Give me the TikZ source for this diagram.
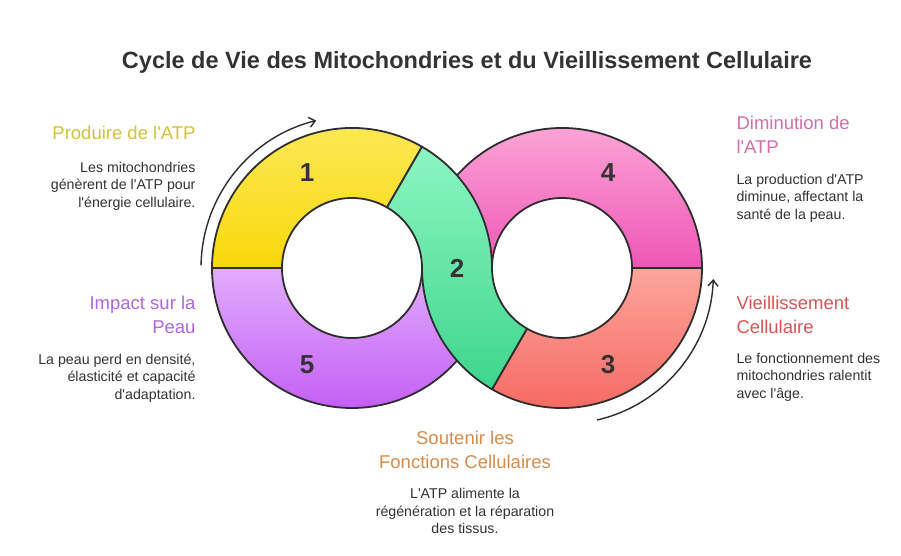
\documentclass[tikz,border=0pt]{standalone}
\usepackage{fontspec}
\setmainfont{Liberation Sans}[Ligatures=TeXOff]
\usetikzlibrary{calc,arrows.meta}
\definecolor{outl}{HTML}{2E2E2E}
\definecolor{txt}{HTML}{333333}
\definecolor{yelT}{HTML}{FDEA60}
\definecolor{yelB}{HTML}{F8D80A}
\definecolor{pinT}{HTML}{FBA3D6}
\definecolor{pinB}{HTML}{EE56B6}
\definecolor{purT}{HTML}{E2ADFC}
\definecolor{purB}{HTML}{C35FF5}
\definecolor{redT}{HTML}{FDA59C}
\definecolor{redB}{HTML}{F4625C}
\definecolor{grnT}{HTML}{8CF6C2}
\definecolor{grnB}{HTML}{3ED58C}
\definecolor{yelTx}{HTML}{D3C33A}
\definecolor{pinTx}{HTML}{D470A8}
\definecolor{purTx}{HTML}{B066DE}
\definecolor{redTx}{HTML}{D95555}
\definecolor{orTx}{HTML}{D98B48}
\tikzset{
  seg/.style={draw=outl, line width=1.8pt, line join=round},
  num/.style={font=\fontsize{26}{28}\selectfont\bfseries, text=txt},
  head/.style={font=\fontsize{18.5}{24}\selectfont},
  body/.style={font=\fontsize{14.2}{17.5}\selectfont, text=txt},
  cyc/.style={draw=outl, line width=1.4pt, -{Straight Barb[length=6pt,width=10pt]}}
}
\begin{document}
\begin{tikzpicture}[x=1pt,y=1pt]
\useasboundingbox[fill=white] (0,0) rectangle (901,556);
\coordinate (L) at (352,288);
\coordinate (R) at (562,288);
% purple
\path[seg, top color=purT, bottom color=purB]
  ($(L)+(180:140)$) arc[start angle=180,end angle=360,radius=140pt]
  -- ($(L)+(0:70)$) arc[start angle=360,end angle=180,radius=70pt] -- cycle;
% pink
\path[seg, top color=pinT, bottom color=pinB]
  ($(R)+(0:140)$) arc[start angle=0,end angle=180,radius=140pt]
  -- ($(R)+(180:70)$) arc[start angle=180,end angle=0,radius=70pt] -- cycle;
% yellow
\path[seg, top color=yelT, bottom color=yelB]
  ($(L)+(60:140)$) arc[start angle=60,end angle=180,radius=140pt]
  -- ($(L)+(180:70)$) arc[start angle=180,end angle=60,radius=70pt] -- cycle;
% red
\path[seg, top color=redT, bottom color=redB]
  ($(R)+(240:140)$) arc[start angle=240,end angle=360,radius=140pt]
  -- ($(R)+(0:70)$) arc[start angle=0,end angle=-120,radius=70pt] -- cycle;
% green
\path[seg, top color=grnT, bottom color=grnB]
  ($(L)+(60:140)$) arc[start angle=60,end angle=0,radius=140pt]
  arc[start angle=180,end angle=240,radius=70pt]
  -- ($(R)+(240:140)$) arc[start angle=240,end angle=180,radius=140pt]
  arc[start angle=0,end angle=60,radius=70pt] -- cycle;
% numbers
\node[num] (n1) at (307,383) {1};
\node[num] (n4) at (608,383) {4};
\node[num] (n2) at (457,288) {2};
\node[num] (n5) at (307,191) {5};
\node[num] (n3) at (608,191) {3};
% cycle arrows
\coordinate (a1s) at ($(L)+(179:151)$);
\coordinate (a2s) at ($(R)+(-77:156)$);
\draw[cyc] (a1s) arc[start angle=179,end angle=104,radius=152pt];
\draw[cyc] (a2s) arc[start angle=-77,end angle=-2,radius=150pt];
% title
\node[font=\fontsize{23.5}{28}\selectfont\bfseries, text=txt] (title) at (467,494)
  {Cycle de Vie des Mitochondries et du Vieillissement Cellulaire};
% left top
\node[head, text=yelTx, anchor=east, align=right] (h1) at (199,423) {Produire de l'ATP};
\node[body, anchor=east, align=right] (b1) at (199,370)
  {Les mitochondries\\génèrent de l'ATP pour\\l'énergie cellulaire.};
% left bottom
\node[head, text=purTx, anchor=east, align=right] (h5) at (199,241.5) {Impact sur la\\Peau};
\node[body, anchor=east, align=right] (b5) at (199,178)
  {La peau perd en densité,\\élasticité et capacité\\d'adaptation.};
% right top
\node[head, text=pinTx, anchor=west, align=left] (h4) at (733,421) {Diminution de\\l'ATP};
\node[body, anchor=west, align=left] (b4) at (733,358)
  {La production d'ATP\\diminue, affectant la\\santé de la peau.};
% right bottom
\node[head, text=redTx, anchor=west, align=left] (h3) at (733,241) {Vieillissement\\Cellulaire};
\node[body, anchor=west, align=left] (b3) at (733,179)
  {Le fonctionnement des\\mitochondries ralentit\\avec l'âge.};
% bottom
\node[head, text=orTx, align=center] (h2) at (465,106) {Soutenir les\\Fonctions Cellulaires};
\node[body, align=center] (b2) at (465,45)
  {L'ATP alimente la\\régénération et la réparation\\des tissus.};
\end{tikzpicture}
\end{document}
